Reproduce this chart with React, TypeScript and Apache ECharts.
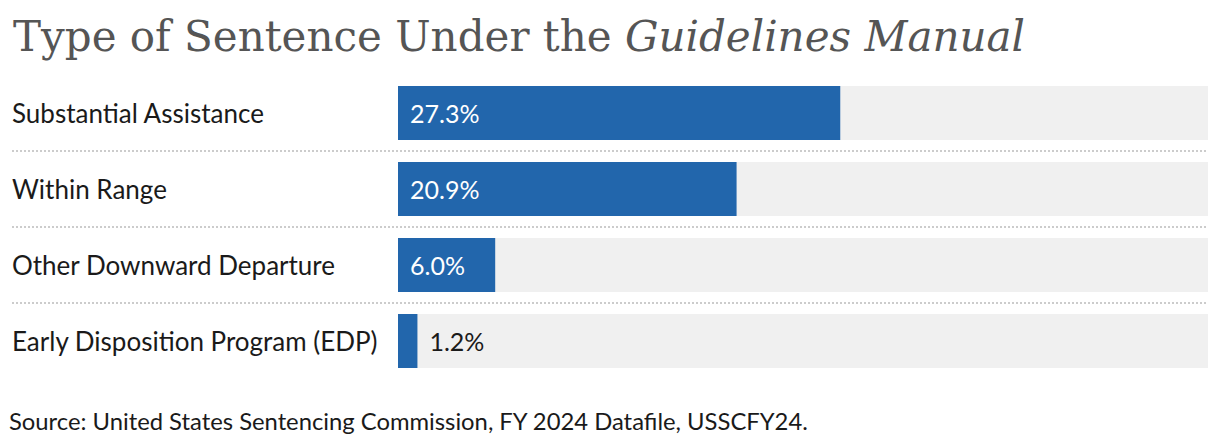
import React, { useEffect, useRef } from "react";
import * as echarts from "echarts";

const categories = [
  "Substantial Assistance",
  "Within Range",
  "Other Downward Departure",
  "Early Disposition Program (EDP)",
];
const values = [27.3, 20.9, 6.0, 1.2];
const titleMain = "Type of Sentence Under the ";
const titleItalic = "Guidelines Manual";
const sourceText = "Source: United States Sentencing Commission, FY 2024 Datafile, USSCFY24.";
const axisMax = 50;

export default function App() {
  const ref = useRef<HTMLDivElement>(null);
  useEffect(() => {
    document.body.style.margin = "0";
    const chart = echarts.init(ref.current!, null, { renderer: "svg" });
    const sepYs = [151, 227, 303];
    chart.setOption({
      animation: false,
      title: {
        text: `{a|${titleMain}}{b|${titleItalic}}`,
        left: 8,
        top: 10,
        textStyle: {
          fontWeight: "normal",
          rich: {
            a: { fontFamily: "DejaVu Serif", fontWeight: "normal", fontSize: 42, color: "#555555" },
            b: { fontFamily: "DejaVu Serif", fontWeight: "normal", fontStyle: "italic", fontSize: 42, color: "#555555" },
          },
        },
      },
      grid: { left: 398, right: 12, top: 75, height: 304, containLabel: false },
      xAxis: {
        type: "value",
        min: 0,
        max: axisMax,
        show: false,
      },
      yAxis: {
        type: "category",
        data: categories,
        inverse: true,
        axisLine: { show: false },
        axisTick: { show: false },
        splitLine: { show: false },
        axisLabel: {
          align: "left",
          margin: 386,
          fontFamily: "Lato",
          fontSize: 26,
          color: "#1a1a1a",
        },
      },
      series: [
        {
          type: "bar",
          data: values.map((v) => ({
            value: v,
            label:
              v < 3
                ? { position: "right", distance: 12, color: "#1a1a1a" }
                : { position: "insideLeft", distance: 12, color: "#ffffff" },
          })),
          barWidth: 54,
          itemStyle: { color: "#2266ac" },
          showBackground: true,
          backgroundStyle: { color: "#f0f0f0" },
          label: {
            show: true,
            fontFamily: "Lato",
            fontSize: 25,
            formatter: (p: any) => p.value.toFixed(1) + "%",
          },
        },
      ],
      graphic: [
        ...sepYs.map((y) => ({
          type: "line",
          shape: { x1: 12, y1: y, x2: 1208, y2: y },
          style: { stroke: "#cccccc", lineWidth: 2, lineDash: [2, 2] },
          silent: true,
        })),
        {
          type: "text",
          left: 9,
          top: 409,
          style: {
            text: sourceText,
            fontFamily: "Lato",
            fontSize: 23.8,
            fill: "#1a1a1a",
          },
        },
      ],
    });
    return () => chart.dispose();
  }, []);
  return <div ref={ref} style={{ width: 1220, height: 448 }} />;
}
